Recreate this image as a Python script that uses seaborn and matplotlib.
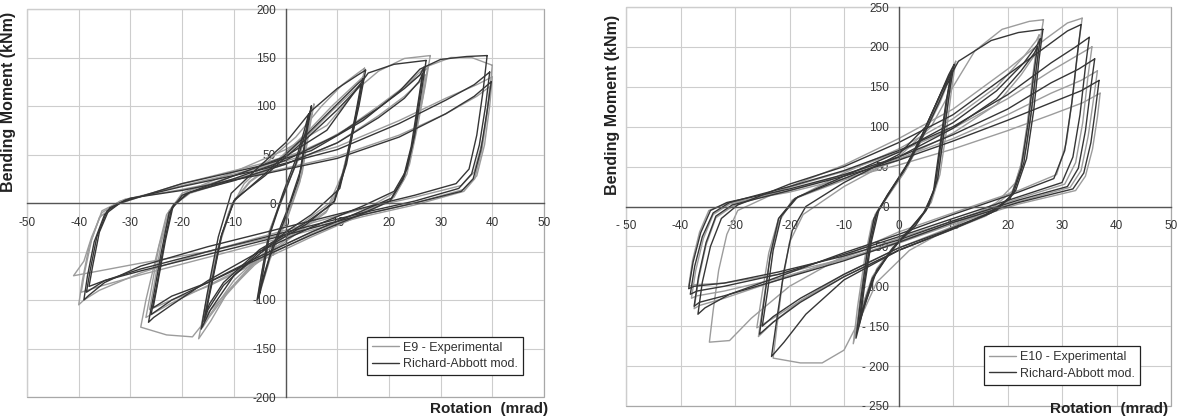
import numpy as np
import pandas as pd
import matplotlib
matplotlib.use("Agg")
import matplotlib.pyplot as plt
import seaborn as sns
from matplotlib.patches import Rectangle

# Hysteresis paths, (rotation mrad, moment kNm); None ends a cycle
e9_exp = [
    (5.5, 102), (4.5, 72), (3.2, 30), (0.5, -12), (-2.8, -52), (-4.8, -85), (-5.5, -103), (-4.6, -72), (-3.2, -30), (-0.5, 8), (2.5, 45), (4.5, 80), (5.5, 102), None,
    (5, 95), (4.1, 62), (2.8, 22), (0.2, -18), (-3, -58), (-4.7, -88), (-5.2, -98), (-4.2, -65), (-2.8, -25), (0, 12), (2.6, 50), (4.2, 80), (5, 95), None,
    (15.3, 139), (14.5, 115), (13, 75), (11, 30), (8.5, 0), (3, -22), (-5, -55), (-11, -90), (-14.5, -122), (-16.8, -140), (-15.5, -105), (-13.5, -55), (-11, -10), (-8, 20), (-3, 45), (2, 68), (7, 100), (11, 122), (14, 134), (15.3, 139), None,
    (15, 130), (14.2, 102), (12.5, 60), (10.5, 18), (8, -8), (2, -30), (-6, -62), (-12, -98), (-14.8, -118), (-16, -128), (-15, -95), (-13, -45), (-10.5, -2), (-7, 22), (-2, 42), (4, 72), (9, 100), (13, 120), (15, 130), None,
    (14.8, 124), (13.9, 96), (12.2, 55), (10.2, 14), (7.8, -10), (2, -32), (-6, -64), (-12, -96), (-14.8, -112), (-15.6, -120), (-14.6, -88), (-12.6, -40), (-10.2, 0), (-6.8, 22), (-2, 40), (4, 68), (9, 95), (12.8, 114), (14.8, 124), None,
    (28, 152), (27, 120), (25.5, 78), (24, 40), (21.5, 12), (15, -8), (5, -30), (-5, -55), (-10, -80), (-15, -118), (-18, -138), (-23, -136), (-28, -128), (-27, -100), (-25, -55), (-23, -12), (-20, 10), (-10, 32), (0, 55), (8, 80), (14, 118), (18, 136), (23, 149), (28, 152), None,
    (27.5, 140), (26.6, 110), (25, 68), (23.5, 30), (21, 6), (14, -12), (5, -32), (-5, -58), (-15, -85), (-22, -103), (-27, -118), (-26, -90), (-24.5, -45), (-22.5, -8), (-19, 12), (-10, 28), (0, 46), (10, 70), (18, 100), (23, 120), (26.5, 134), (27.5, 140), None,
    (27, 132), (26.2, 102), (24.6, 60), (23, 25), (20.5, 3), (14, -14), (5, -35), (-5, -60), (-15, -86), (-22, -100), (-26.3, -110), (-25.4, -84), (-24, -40), (-22, -4), (-18.5, 10), (-10, 24), (0, 40), (10, 62), (18, 90), (23, 110), (26.2, 126), (27, 132), None,
    (40, 142), (39.4, 110), (38.3, 68), (36.5, 32), (34, 18), (25, 6), (15, -6), (0, -28), (-15, -50), (-28, -72), (-36, -90), (-39, -100), (-40, -105), (-39.3, -80), (-38, -45), (-36, -15), (-33, -2), (-20, 20), (-5, 40), (5, 56), (15, 86), (22, 115), (27, 140), (32, 150), (36, 150), (40, 142), None,
    (40, 130), (39.5, 100), (38.5, 60), (37, 28), (34.5, 14), (25, 0), (15, -12), (0, -32), (-15, -50), (-28, -62), (-38, -72), (-41, -75), (-39, -60), (-37.5, -35), (-35.5, -10), (-32, 2), (-20, 18), (-5, 36), (10, 58), (22, 85), (31, 108), (37, 122), (40, 130), None,
    (39.5, 120), (39, 92), (38, 55), (36.6, 25), (34.5, 12), (25, -2), (15, -14), (0, -35), (-15, -56), (-28, -74), (-36, -86), (-39.5, -92), (-38.8, -70), (-37.5, -38), (-35.5, -8), (-31, 4), (-20, 14), (-5, 30), (10, 48), (22, 70), (31, 92), (37, 110), (39.5, 120),
]

e9_mod = [
    (5, 100), (4.2, 75), (3.0, 35), (0.5, -5), (-2.5, -45), (-4.5, -80), (-5.5, -100), (-4.8, -78), (-3.5, -40), (-1.0, 0), (2.0, 40), (4.0, 75), (5, 100), None,
    (4.5, 92), (3.8, 65), (2.6, 25), (0, -15), (-3, -55), (-4.6, -85), (-5.2, -98), (-4.3, -70), (-3, -30), (-0.5, 10), (2.2, 48), (3.8, 78), (4.5, 92), None,
    (15.5, 137), (14.2, 100), (12.5, 60), (10.5, 15), (5, -12), (0, -30), (-10, -75), (-14.5, -110), (-16.3, -130), (-15.2, -95), (-13, -35), (-10.5, 10), (-5, 38), (0, 62), (5, 95), (10, 118), (14, 132), (15.5, 137), None,
    (15, 128), (13.8, 95), (11.8, 40), (9.5, 2), (4, -22), (-5, -50), (-12, -85), (-15, -110), (-15.8, -122), (-14.6, -90), (-12.5, -35), (-10, 2), (-4, 30), (4, 70), (10, 102), (13.8, 122), (15, 128), None,
    (14.6, 122), (13.5, 90), (11.5, 38), (9.3, 0), (4, -20), (-5, -48), (-12, -82), (-14.7, -104), (-15.5, -115), (-14.3, -85), (-12.3, -32), (-9.8, 4), (-4, 28), (4, 66), (10, 96), (13.4, 115), (14.6, 122), None,
    (27.2, 147), (26.3, 115), (25, 70), (23.5, 35), (21, 12), (15, -3), (5, -25), (-5, -50), (-15, -80), (-22, -105), (-25.5, -118), (-26.5, -123), (-25.5, -95), (-24, -50), (-22.5, -10), (-20, 8), (-10, 28), (0, 48), (8, 75), (13, 112), (16, 134), (21, 143), (27.2, 147), None,
    (26.8, 140), (25.9, 108), (24.6, 62), (23, 28), (20.5, 5), (14, -10), (5, -30), (-5, -55), (-15, -82), (-22, -100), (-26, -115), (-25, -88), (-23.5, -42), (-22, -5), (-19, 10), (-10, 25), (0, 44), (10, 70), (18, 98), (23, 118), (26, 132), (26.8, 140), None,
    (26.5, 133), (25.6, 102), (24.3, 58), (22.7, 24), (20.2, 2), (14, -13), (5, -33), (-5, -57), (-15, -82), (-22, -96), (-25.6, -108), (-24.7, -82), (-23.2, -38), (-21.7, -2), (-18.5, 11), (-10, 23), (0, 40), (10, 62), (18, 88), (23, 108), (25.8, 125), (26.5, 133), None,
    (39, 152), (38.2, 115), (37, 70), (35.5, 35), (33, 20), (25, 8), (15, -5), (0, -25), (-15, -45), (-28, -65), (-35, -82), (-38, -95), (-39, -100), (-38.3, -75), (-37, -40), (-35, -12), (-32, 0), (-20, 20), (-5, 38), (5, 54), (15, 85), (22, 115), (26, 138), (30, 148), (35, 151), (39, 152), None,
    (39.5, 135), (38.7, 100), (37.5, 60), (36, 30), (33.5, 15), (25, 2), (15, -10), (0, -30), (-15, -50), (-28, -68), (-35, -80), (-38.5, -92), (-37.8, -70), (-36.5, -35), (-34.5, -8), (-31, 3), (-20, 17), (-5, 34), (10, 55), (22, 82), (31, 106), (36.5, 122), (39.5, 135), None,
    (39.8, 125), (39, 95), (37.8, 55), (36.3, 25), (34, 12), (25, 0), (15, -12), (0, -33), (-15, -53), (-28, -70), (-35, -80), (-38, -86), (-37.3, -65), (-36, -30), (-34, -5), (-30, 5), (-20, 13), (-5, 29), (10, 46), (22, 68), (31, 92), (36.5, 110), (39.8, 125),
]

e10_exp = [
    (10.5, 182), (9.8, 150), (8.8, 95), (7.6, 40), (6, 5), (3, -22), (0, -42), (-4, -78), (-7, -135), (-8.3, -172), (-7.5, -125), (-6.2, -65), (-4.8, -18), (-2, 12), (1, 42), (4, 80), (7, 125), (9.5, 165), (10.5, 182), None,
    (10, 172), (9.3, 140), (8.2, 85), (7, 30), (5.5, 0), (2.5, -26), (-0.5, -48), (-4.5, -85), (-6.8, -128), (-7.8, -158), (-7, -112), (-5.8, -55), (-4.3, -10), (-1.5, 18), (1.5, 48), (4.5, 88), (7.5, 132), (9.3, 160), (10, 172), None,
    (9.7, 163), (8.9, 132), (7.8, 76), (6.7, 22), (5, -6), (2, -30), (-1, -52), (-4.8, -88), (-6.4, -120), (-7.3, -145), (-6.5, -102), (-5.3, -48), (-3.9, -6), (-1.2, 22), (1.8, 54), (4.8, 92), (7.6, 130), (9, 154), (9.7, 163), None,
    (26.6, 234), (25.8, 200), (24.8, 140), (23.5, 75), (21.5, 30), (18, 5), (10, -25), (2, -55), (-4, -95), (-7, -140), (-10, -180), (-14, -196), (-18, -196), (-23, -190), (-22.3, -150), (-21.3, -95), (-20, -45), (-17.5, -10), (-10, 25), (0, 62), (6, 100), (10, 150), (14, 195), (19, 222), (24, 232), (26.6, 234), None,
    (25.8, 215), (25, 180), (24, 120), (22.8, 60), (21, 20), (17, -3), (10, -25), (0, -52), (-10, -85), (-18, -118), (-23, -145), (-25.7, -163), (-24.8, -120), (-23.6, -65), (-22, -20), (-19.5, 8), (-10, 42), (0, 72), (10, 110), (18, 150), (23, 188), (25.3, 208), (25.8, 215), None,
    (25.3, 198), (24.6, 162), (23.6, 102), (22.3, 45), (20.3, 8), (16, -12), (8, -34), (0, -55), (-10, -88), (-18, -118), (-23, -140), (-26, -152), (-25, -108), (-23.8, -58), (-22, -15), (-19, 10), (-10, 33), (0, 58), (10, 92), (18, 128), (22.5, 165), (24.8, 188), (25.3, 198), None,
    (33.7, 236), (33, 200), (32, 140), (30.8, 80), (29, 40), (22, 20), (10, -8), (0, -32), (-10, -62), (-20, -100), (-27, -140), (-31, -168), (-34.7, -170), (-34, -130), (-33, -80), (-31.5, -35), (-29.5, -5), (-20, 25), (-10, 52), (0, 85), (10, 122), (20, 172), (27, 210), (31, 230), (33.7, 236), None,
    (35.5, 200), (34.8, 165), (33.8, 105), (32.5, 55), (30.5, 28), (22, 10), (10, -18), (0, -40), (-10, -64), (-22, -92), (-32, -115), (-36.5, -124), (-37.5, -128), (-36.7, -92), (-35.3, -48), (-33.5, -14), (-30.5, 0), (-20, 24), (-10, 44), (0, 68), (10, 98), (20, 135), (28, 170), (33, 190), (35.5, 200), None,
    (36.5, 170), (35.8, 135), (34.8, 88), (33.5, 45), (31.5, 24), (22, 6), (10, -20), (0, -44), (-10, -66), (-22, -90), (-32, -106), (-37, -112), (-38, -115), (-37.2, -80), (-35.8, -40), (-34, -10), (-31, 3), (-20, 20), (-10, 40), (0, 60), (10, 85), (20, 115), (28, 142), (33.5, 158), (36.5, 170), None,
    (37, 142), (36.5, 112), (35.6, 72), (34.3, 38), (32.5, 20), (22, 3), (10, -22), (0, -46), (-10, -66), (-22, -85), (-32, -96), (-37.5, -98), (-38.5, -100), (-37.8, -68), (-36.5, -32), (-34.8, -5), (-31.5, 4), (-20, 18), (-10, 35), (0, 52), (10, 72), (20, 95), (28, 115), (33.8, 130), (37, 142),
]

e10_mod = [
    (10.2, 178), (9.5, 150), (8.3, 90), (7.2, 35), (5.5, 0), (3, -25), (0, -45), (-4, -80), (-6.5, -130), (-7.8, -165), (-7, -120), (-5.8, -60), (-4.5, -15), (-2, 15), (1, 45), (4, 85), (7, 130), (9.2, 165), (10.2, 178), None,
    (9.8, 170), (9, 140), (7.8, 80), (6.7, 25), (5, -5), (2, -30), (-1, -52), (-4.5, -88), (-6.3, -125), (-7.3, -150), (-6.5, -105), (-5.3, -50), (-4, -8), (-1.5, 20), (1.5, 52), (4.5, 92), (7.3, 135), (9, 160), (9.8, 170), None,
    (9.5, 160), (8.7, 130), (7.5, 72), (6.4, 18), (4.6, -8), (1.6, -32), (-1.4, -55), (-4.8, -90), (-6.1, -118), (-7, -140), (-6.2, -98), (-5, -45), (-3.6, -4), (-1, 24), (2, 56), (5, 95), (7.4, 130), (8.8, 152), (9.5, 160), None,
    (26.5, 222), (25.8, 185), (24.8, 120), (23.5, 60), (21.5, 20), (18, -5), (10, -28), (0, -55), (-10, -92), (-17, -135), (-21, -170), (-23.3, -188), (-22.3, -140), (-21, -80), (-19.5, -30), (-17, 0), (-10, 30), (0, 65), (5, 100), (8, 145), (11, 182), (17, 208), (22, 218), (26.5, 222), None,
    (26, 210), (25.3, 175), (24.3, 115), (23, 55), (21, 15), (17, -8), (10, -28), (0, -55), (-10, -88), (-18, -120), (-23, -145), (-25.5, -160), (-24.6, -115), (-23.5, -60), (-22, -15), (-19, 10), (-10, 38), (0, 68), (10, 105), (18, 145), (23, 180), (25.5, 203), (26, 210), None,
    (25.5, 200), (24.8, 165), (23.8, 105), (22.5, 48), (20.5, 10), (16, -10), (8, -32), (0, -52), (-10, -85), (-18, -115), (-23, -138), (-25, -150), (-24, -105), (-23, -55), (-21.5, -12), (-18.5, 12), (-10, 35), (0, 62), (10, 98), (18, 135), (22.5, 170), (25, 193), (25.5, 200), None,
    (33.5, 228), (32.8, 190), (31.8, 130), (30.5, 70), (28.5, 35), (22, 18), (10, -10), (0, -35), (-10, -58), (-22, -88), (-31, -110), (-35.5, -127), (-36.8, -135), (-36, -95), (-34.5, -50), (-32.5, -15), (-29.5, 2), (-20, 28), (-10, 50), (0, 80), (10, 115), (20, 165), (27, 200), (31, 220), (33.5, 228), None,
    (35, 212), (34.3, 175), (33.3, 115), (32, 62), (30, 30), (22, 12), (10, -15), (0, -38), (-10, -60), (-22, -85), (-32, -100), (-37, -106), (-38.2, -110), (-37.4, -75), (-36, -38), (-34, -8), (-31, 5), (-20, 25), (-10, 45), (0, 70), (10, 100), (20, 140), (28, 180), (32.5, 200), (35, 212), None,
    (36, 185), (35.3, 150), (34.3, 95), (33, 48), (31, 25), (22, 8), (10, -18), (0, -42), (-10, -62), (-22, -82), (-32, -96), (-37.5, -100), (-38.5, -103), (-37.7, -70), (-36.3, -33), (-34.5, -5), (-31.5, 5), (-20, 22), (-10, 40), (0, 62), (10, 90), (20, 122), (28, 155), (33, 172), (36, 185), None,
    (36.8, 158), (36.2, 125), (35.3, 80), (34, 42), (32, 22), (22, 5), (10, -20), (0, -45), (-10, -68), (-22, -92), (-32, -112), (-36.5, -120), (-37.5, -125), (-36.7, -88), (-35.3, -45), (-33.5, -12), (-30.5, 2), (-20, 20), (-10, 38), (0, 58), (10, 82), (20, 108), (28, 130), (33.5, 145), (36.8, 158),
]

x_ticks = [-50, -40, -30, -20, -10, 0, 10, 20, 30, 40, 50]
e9_xlabels = ["-50", "-40", "-30", "-20", "-10", "0", "10", "20", "30", "40", "50"]
e9_yticks = [-200, -150, -100, -50, 0, 50, 100, 150, 200]
e9_ylabels = ["-200", "-150", "-100", "-50", "0", "50", "100", "150", "200"]
e10_xlabels = ["- 50", "-40", "-30", "-20", "-10", "0", "10", "20", "30", "40", "50"]
e10_yticks = [-250, -200, -150, -100, -50, 0, 50, 100, 150, 200, 250]
e10_ylabels = ["- 250", "- 200", "- 150", "- 100", "- 50", "0", "50", "100", "150", "200", "250"]

exp_grey = "#9c9c9c"
model_dark = "#363636"


def to_frame(points, label):
    rows = []
    cycle = 0
    for p in points:
        if p is None:
            cycle += 1
            continue
        rows.append((p[0], p[1], label + str(cycle), label))
    return pd.DataFrame(rows, columns=["rot", "mom", "cycle", "series"])


def draw_panel(ax, exp_pts, mod_pts, exp_name, ylim, yticks, xlabels, ylabels, leg_anchor):
    df = pd.concat([to_frame(exp_pts, exp_name), to_frame(mod_pts, "Richard-Abbott mod.")])
    sns.lineplot(data=df, x="rot", y="mom", hue="series", units="cycle",
                 estimator=None, sort=False, ax=ax, linewidth=1.0,
                 palette={exp_name: exp_grey, "Richard-Abbott mod.": model_dark})
    ax.set_xlim(-50, 50)
    ax.set_ylim(-ylim, ylim)
    ax.set_xticks(x_ticks)
    ax.set_xticklabels(xlabels)
    ax.set_yticks(yticks)
    ax.set_yticklabels(ylabels)
    ax.set_xlabel("")
    ax.set_ylabel("")
    ax.grid(True, color="#cdcdcd", linewidth=0.8)
    ax.set_axisbelow(True)
    for s in ["top", "right"]:
        ax.spines[s].set_visible(False)
    ax.spines["left"].set_position(("data", 0))
    ax.spines["bottom"].set_position(("data", 0))
    for s in ["left", "bottom"]:
        ax.spines[s].set_color("#555555")
        ax.spines[s].set_linewidth(1.0)
    ax.tick_params(axis="both", direction="out", length=3, width=0.8, color="#555555",
                   labelsize=8.5, labelcolor="#333333")
    ax.tick_params(axis="x", pad=7)
    ax.tick_params(axis="y", pad=4)
    ax.add_patch(Rectangle((0, 0), 1, 1, transform=ax.transAxes, fill=False,
                           edgecolor="#a8a8a8", linewidth=0.9, clip_on=False, zorder=0.5))
    handles, labels = ax.get_legend_handles_labels()
    for h in handles:
        h.set_linewidth(1.0)
    leg = ax.legend(handles, labels, loc="lower right", bbox_to_anchor=leg_anchor,
                    fontsize=9, frameon=True, fancybox=False, framealpha=1,
                    edgecolor="#222222", handlelength=2.2, handletextpad=0.3,
                    borderpad=0.4, labelspacing=0.35, borderaxespad=0)
    leg.get_frame().set_linewidth(0.9)
    for t in leg.get_texts():
        t.set_color("#333333")


sns.set_style("white")
plt.rcParams["font.family"] = ["Liberation Sans", "DejaVu Sans"]

fig = plt.figure(figsize=(11.81, 4.17), dpi=100)
ax1 = fig.add_axes([27 / 1181, 20 / 417, 517 / 1181, 388 / 417])
ax2 = fig.add_axes([626 / 1181, 11 / 417, 545 / 1181, 399 / 417])

draw_panel(ax1, e9_exp, e9_mod, "E9 - Experimental", 200, e9_yticks,
           e9_xlabels, e9_ylabels, (0.959, 0.057))
draw_panel(ax2, e10_exp, e10_mod, "E10 - Experimental", 250, e10_yticks,
           e10_xlabels, e10_ylabels, (0.943, 0.053))

fig.text(9 / 1181, 1 - 102 / 417, "Bending Moment (kNm)", rotation=90, fontsize=11.5,
         fontweight="bold", ha="center", va="center", color="#222222")
fig.text(613 / 1181, 1 - 105 / 417, "Bending Moment (kNm)", rotation=90, fontsize=11.5,
         fontweight="bold", ha="center", va="center", color="#222222")
fig.text(430 / 1181, 1 - 402 / 417, "Rotation  (mrad)", fontsize=11,
         fontweight="bold", ha="left", va="top", color="#222222")
fig.text(1050 / 1181, 1 - 402 / 417, "Rotation  (mrad)", fontsize=11,
         fontweight="bold", ha="left", va="top", color="#222222")

fig.savefig("out.png", dpi=100)
